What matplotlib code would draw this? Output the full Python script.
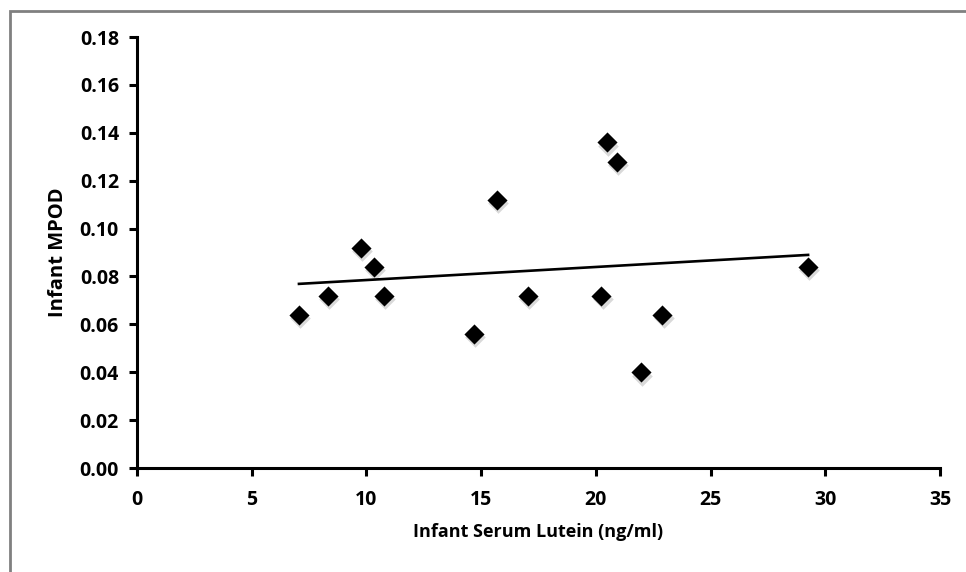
#!/usr/bin/env python3
"""
Scatter of infant MPOD against infant serum lutein, with a linear trend line.
"""

import matplotlib
matplotlib.use("Agg")
import matplotlib.pyplot as plt
import matplotlib.transforms as mtransforms
from matplotlib.patches import Rectangle


serum_lutein = [7.06, 8.33, 9.76, 10.33, 10.77, 14.69, 15.69, 17.04,
                20.49, 20.92, 20.23, 21.97, 22.89, 29.25]
mpod = [0.064, 0.072, 0.092, 0.084, 0.072, 0.056, 0.112, 0.072,
        0.136, 0.128, 0.072, 0.040, 0.064, 0.084]

# trend line end points as drawn in the source chart
trend_x = [7.06, 29.25]
trend_y = [0.0769, 0.0890]

x_ticks = [0, 5, 10, 15, 20, 25, 30, 35]
y_ticks = [0.00, 0.02, 0.04, 0.06, 0.08, 0.10, 0.12, 0.14, 0.16, 0.18]

plt.rcParams["font.family"] = ["Open Sans", "DejaVu Sans"]
plt.rcParams["font.weight"] = "bold"

fig = plt.figure(figsize=(9.66, 5.72), dpi=100)
ax = fig.add_axes([0.1418, 0.1818, 0.9731 - 0.1418, 0.9353 - 0.1818])

# outer frame, running off the right and bottom edges
fig.patches.append(
    Rectangle((10 / 966, -0.05), 1.1, 1 - 11 / 572 + 0.05,
              transform=fig.transFigure, fill=False,
              edgecolor="#808080", linewidth=2.0, zorder=0)
)

shadow = mtransforms.offset_copy(ax.transData, fig=fig, x=1.0, y=-2.5, units="points")
ax.scatter(serum_lutein, mpod, marker="D", s=110, color="#a0a0a0",
           alpha=0.4, linewidths=0, transform=shadow, zorder=2)
ax.scatter(serum_lutein, mpod, marker="D", s=105, color="black",
           linewidths=0, zorder=3)
ax.plot(trend_x, trend_y, color="black", linewidth=1.9, zorder=4)

ax.set_xlim(0, 35)
ax.set_ylim(0, 0.18)
ax.set_xticks(x_ticks)
ax.set_yticks(y_ticks)
ax.set_yticklabels([f"{v:.2f}" for v in y_ticks])

for side in ("top", "right"):
    ax.spines[side].set_visible(False)
for side in ("left", "bottom"):
    ax.spines[side].set_linewidth(2.2)

ax.tick_params(axis="both", direction="out", length=6, width=2.2,
               labelsize=14, pad=7)
ax.tick_params(axis="x", pad=10)
ax.set_xlabel("Infant Serum Lutein (ng/ml)", fontsize=13, fontweight="bold", labelpad=9)
ax.set_ylabel("Infant MPOD", fontsize=14.5, fontweight="bold", labelpad=8)

fig.savefig("out.png", dpi=100)
